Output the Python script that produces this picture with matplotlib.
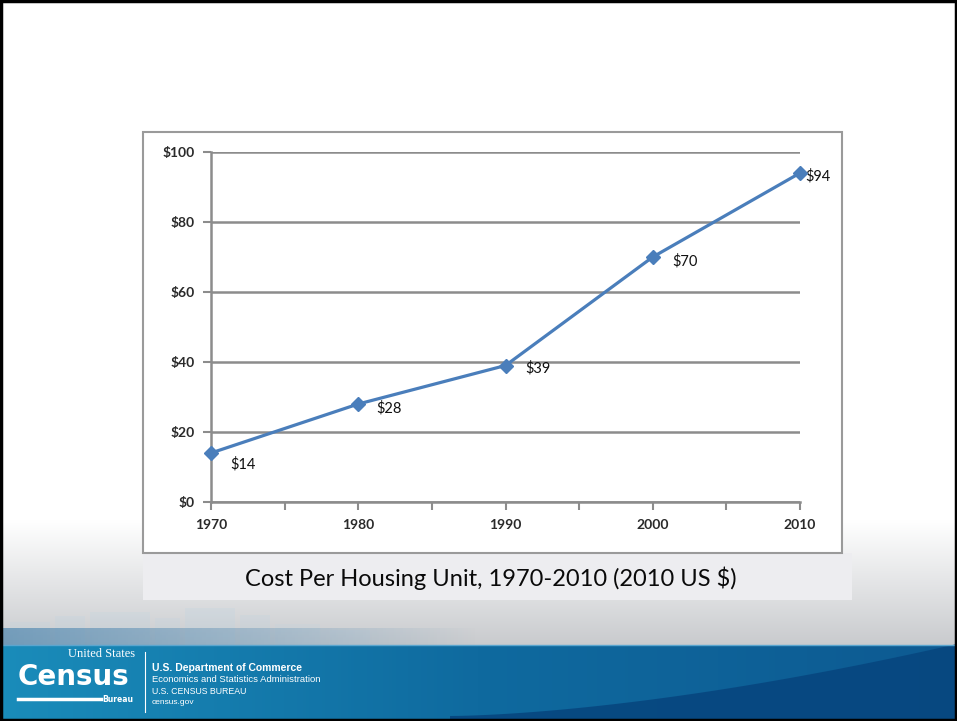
import numpy as np
import matplotlib
matplotlib.use("Agg")
import matplotlib.pyplot as plt
from matplotlib.patches import Rectangle, Polygon

# datos
years = [1970, 1980, 1990, 2000, 2010]
cost = [14, 28, 39, 70, 94]
cost_labels = ["$14", "$28", "$39", "$70", "$94"]
y_ticks = [0, 20, 40, 60, 80, 100]
y_tick_labels = ["$0", "$20", "$40", "$60", "$80", "$100"]
caption = "Cost Per Housing Unit, 1970-2010 (2010 US $)"

W, H = 957, 721
blue_line = "#4a7ebb"
grid_grey = "#8c8c8c"

fig = plt.figure(figsize=(W / 100, H / 100), dpi=100)
fig.patch.set_facecolor("white")

# fondo de la diapositiva, en pixeles
bg = fig.add_axes([0, 0, 1, 1])
bg.set_xlim(0, W)
bg.set_ylim(H, 0)
bg.axis("off")

# degradado gris de la parte baja
grad = np.linspace(0, 1, 200)[:, None] * np.ones((1, 10))
grey_cmap = matplotlib.colors.LinearSegmentedColormap.from_list("g", ["#ffffff", "#c9cbce"])
bg.imshow(grad, cmap=grey_cmap, extent=(0, W, 645, 520), aspect="auto", zorder=0)

# "skyline" difuso
for x0, w, top, a in [(10, 40, 622, 0.18), (55, 30, 616, 0.2), (90, 60, 612, 0.2), (155, 25, 618, 0.18),
                      (185, 50, 608, 0.22), (240, 30, 615, 0.18), (275, 45, 624, 0.15), (330, 40, 630, 0.12)]:
    bg.add_patch(Rectangle((x0, top), w, 645 - top, facecolor="#b9d3e4", alpha=a, lw=0, zorder=1))
band = np.linspace(1, 0, 200)[None, :] * np.ones((5, 1))
band_cmap = matplotlib.colors.LinearSegmentedColormap.from_list(
    "bb", [(0.17, 0.45, 0.65, 0.0), (0.17, 0.45, 0.65, 0.55)])
bg.imshow(band, cmap=band_cmap, extent=(0, 480, 645, 628), aspect="auto", zorder=1)

# banda azul
blue_grad = np.linspace(0, 1, 300)[None, :] * np.ones((10, 1))
blue_cmap = matplotlib.colors.LinearSegmentedColormap.from_list("b", ["#1a8cba", "#0f6a9f", "#0d5a92"])
bg.imshow(blue_grad, cmap=blue_cmap, extent=(0, W, H, 645), aspect="auto", zorder=2)
cx = np.linspace(450, W, 60)
cy = 716 - 72 * ((cx - 450) / (W - 450)) ** 1.6
bg.add_patch(Polygon(np.column_stack([np.r_[cx, W, 450], np.r_[cy, H, H]]),
                     facecolor="#07467f", lw=0, alpha=0.9, zorder=3))
bg.plot([0, W], [645, 645], color="#5aa6cf", lw=1, zorder=4)

# logo y textos del banner
bg.text(135, 654, "United States", color="white", fontsize=9, ha="right", va="center",
        family="Liberation Serif", zorder=5)
bg.text(18, 677, "Census", color="white", fontsize=20, fontweight="bold", ha="left", va="center",
        family="DejaVu Sans", zorder=5)
bg.plot([18, 101], [699, 699], color="white", lw=2.5, zorder=5)
bg.text(133, 699, "Bureau", color="white", fontsize=5.5, fontweight="bold", ha="right", va="center", zorder=5)
bg.plot([145, 145], [652, 712], color="white", lw=0.8, zorder=5)
bg.text(152, 668, "U.S. Department of Commerce", color="white", fontsize=7.5, fontweight="bold",
        va="center", family="Liberation Sans", zorder=5)
bg.text(152, 680, "Economics and Statistics Administration", color="white", fontsize=6.8,
        va="center", family="Liberation Sans", zorder=5)
bg.text(152, 692, "U.S. CENSUS BUREAU", color="white", fontsize=6.3, va="center",
        family="Liberation Sans", zorder=5)
bg.text(152, 703, "census.gov", color="white", fontsize=6, va="center", family="Liberation Sans", zorder=5)

# panel del grafico y caja del titulo
bg.add_patch(Rectangle((143, 553), 709, 47, facecolor="#ededf0", edgecolor="none", zorder=6))
bg.add_patch(Rectangle((143, 132), 699, 421, facecolor="white", edgecolor="#9a9a9a", lw=1.5, zorder=6))
bg.text(491, 578, caption, fontsize=17, ha="center", va="center", family="Lato",
        color="#0a0a0a", zorder=7)

# borde negro
bg.add_patch(Rectangle((1, 1), W - 2, H - 2, facecolor="none", edgecolor="black", lw=2.5, zorder=10))

# el grafico de lineas
x_left, x_right = 211, 800
y_bot, y_top = 502, 152
ax = fig.add_axes([x_left / W, (H - y_bot) / H, (x_right - x_left) / W, (y_bot - y_top) / H])
ax.set_facecolor("none")
ax.set_xlim(1970, 2010)
ax.set_ylim(0, 100)

ax.plot(years, cost, color=blue_line, lw=2.3, marker="D", ms=7, clip_on=False, zorder=5)

offsets = [(14, -8), (13, -3), (14, -2), (14, -3), (4, -2)]
for x, y, lab, off in zip(years, cost, cost_labels, offsets):
    ax.annotate(lab, (x, y), xytext=off, textcoords="offset points", ha="left", va="center",
                fontsize=10.5, family="Lato", color="#111111", annotation_clip=False)

ax.set_yticks(y_ticks)
ax.set_yticklabels(y_tick_labels)
ax.set_xticks(years)
ax.set_xticks(np.arange(1975, 2010, 10), minor=True)
ax.grid(axis="y", color=grid_grey, lw=1.8)
ax.set_axisbelow(True)

for side in ["top", "right"]:
    ax.spines[side].set_visible(False)
for side in ["left", "bottom"]:
    ax.spines[side].set_color(grid_grey)
    ax.spines[side].set_linewidth(1.8)

ax.tick_params(axis="both", which="both", color=grid_grey, width=1.5, length=6, direction="out")
ax.tick_params(axis="both", labelsize=10, labelcolor="#2a2a2a", pad=6)
for t in ax.get_xticklabels() + ax.get_yticklabels():
    t.set_family("Lato")
    t.set_fontweight("bold")

fig.savefig("out.png", dpi=100)
